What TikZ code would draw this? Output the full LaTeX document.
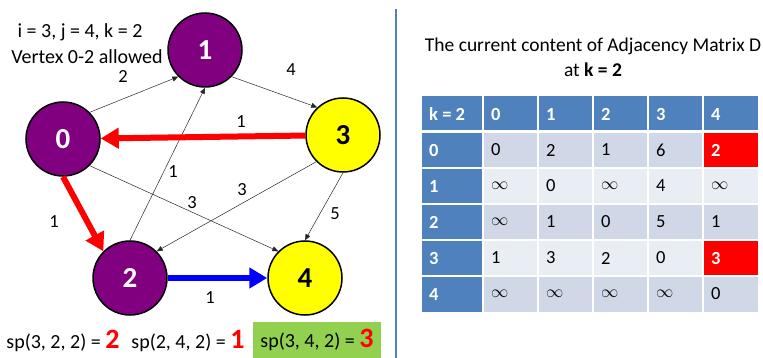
\documentclass[tikz,border=0pt]{standalone}
\usepackage{fontspec}
\setmainfont{Carlito}
\usetikzlibrary{arrows.meta}
\definecolor{vpurple}{HTML}{800080}
\definecolor{vyellow}{HTML}{FFFF00}
\definecolor{hdr}{HTML}{4F81BD}
\definecolor{rowa}{HTML}{D0D8E8}
\definecolor{rowb}{HTML}{E9EDF4}
\definecolor{spgreen}{HTML}{92D050}
\newcommand\bignumfont{\fontsize{28}{28}\selectfont\bfseries}

\tikzset{
  vtx/.style={circle,draw=black,line width=1.5pt,minimum size=74pt,inner sep=0pt,
    font=\fontsize{29}{29}\selectfont\bfseries},
  thinarr/.style={black!85,line width=0.5pt,-{Triangle[length=6pt,width=5pt]}},
  fatarr/.style={line width=6pt,-{Triangle[length=18pt,width=20pt]}},
  wlbl/.style={font=\fontsize{18.5}{18.5}\selectfont},
  note/.style={font=\fontsize{20}{20}\selectfont},
  celltxt/.style={anchor=west,inner sep=0pt,font=\fontsize{18.5}{18.5}\selectfont},
  headtxt/.style={celltxt,text=white,font=\fontsize{18.5}{18.5}\selectfont\bfseries},
}

\begin{document}
\begin{tikzpicture}[x=1pt,y=-1pt]
  \useasboundingbox (0,0) rectangle (763,358);

  % Left side: the graph
  \node[note] (info) at (80,32) {i = 3, j = 4, k = 2};
  \node[note] (allowed) at (87,57) {Vertex 0-2 allowed};

  \node[vtx,fill=vpurple,text=white] (n0) at (63,139) {0};
  \node[vtx,fill=vpurple,text=white] (n1) at (205,50) {1};
  \node[vtx,fill=vpurple,text=white] (n2) at (130,278) {2};
  \node[vtx,fill=vyellow] (n3) at (343,135) {3};
  \node[vtx,fill=vyellow] (n4) at (305,278) {4};

  % Edges
  \draw[thinarr] (n0.45) -- (n1.225);
  \draw[thinarr] (n1.-45) -- (n3.133);
  \draw[thinarr] (n2.90) -- (n1.270);
  \draw[thinarr] (n3.225) -- (n2.45);
  \draw[thinarr] (n0.-45) -- (n4.135);
  \draw[thinarr] (n3.270) -- (n4.90);
  \draw[fatarr,red] (n3) -- (n0);
  \draw[fatarr,red] (n0.270) -- (n2.135);
  \draw[fatarr,blue] (n2) -- (n4);

  % Edge weights
  \node[wlbl] (w01) at (123,76) {2};
  \node[wlbl] (w13) at (291,70) {4};
  \node[wlbl] (w30) at (241,122) {1};
  \node[wlbl] (w02) at (54,222) {1};
  \node[wlbl] (w21) at (173,172) {1};
  \node[wlbl] (w32) at (242,190) {3};
  \node[wlbl] (w04) at (192,203) {3};
  \node[wlbl] (w34) at (335,214) {5};
  \node[wlbl] (w24) at (210,298) {1};

  % Bottom line
  \node[note] (sp1) at (63,341) {sp(3, 2, 2) = \textcolor{red}{\bignumfont 2}};
  \node[note] (sp2) at (188,341) {sp(2, 4, 2) = \textcolor{red}{\bignumfont 1}};
  \node[note,fill=spgreen,minimum width=128pt,minimum height=36pt] (sp3) at (317,340)
    {sp(3, 4, 2) = \textcolor{red}{\bignumfont 3}};

  % Divider
  \draw[hdr,line width=2pt] (396,9) -- (396,358);

  % Right side: the matrix
  \node[font=\fontsize{19.5}{25}\selectfont,align=center] (title) at (593,57)
    {The current content of Adjacency Matrix D\\at \textbf{k = 2}};

  \fill[rowa] (483,132) rectangle (758,168);
  \fill[rowb] (483,168) rectangle (758,204);
  \fill[rowa] (483,204) rectangle (758,240);
  \fill[rowb] (483,240) rectangle (758,276);
  \fill[rowa] (483,276) rectangle (758,312);
  \fill[hdr] (422,96) rectangle (758,132);
  \fill[hdr] (422,132) rectangle (483,312);
  \fill[red] (703,132) rectangle (758,168);
  \fill[red] (703,240) rectangle (758,276);
  \draw[white,line width=3pt] (422,132) -- (758,132);
  \foreach \y in {168,204,240,276}
    \draw[white,line width=1.5pt] (422,\y) -- (758,\y);
  \foreach \x in {483,538,593,648,703}
    \draw[white,line width=1.5pt] (\x,96) -- (\x,312);

  \node[headtxt] (hk) at (429,114) {k = 2};
  \foreach \c/\x in {0/491,1/546,2/601,3/656,4/711}
    \node[headtxt] (h\c) at (\x,114) {\c};

  \foreach \r/\a/\b/\c/\d/\e/\s in {0/0/2/1/6/2/headtxt,
      1/$\infty$/0/$\infty$/4/$\infty$/celltxt,
      2/$\infty$/1/0/5/1/celltxt,
      3/1/3/2/0/3/headtxt,
      4/$\infty$/$\infty$/$\infty$/$\infty$/0/celltxt} {
    \node[headtxt] (r\r) at (429,{150+36*\r}) {\r};
    \node[celltxt] (m\r-0) at (491,{150+36*\r}) {\a};
    \node[celltxt] (m\r-1) at (546,{150+36*\r}) {\b};
    \node[celltxt] (m\r-2) at (601,{150+36*\r}) {\c};
    \node[celltxt] (m\r-3) at (656,{150+36*\r}) {\d};
    \node[\s] (m\r-4) at (711,{150+36*\r}) {\e};
  }
\end{tikzpicture}
\end{document}
